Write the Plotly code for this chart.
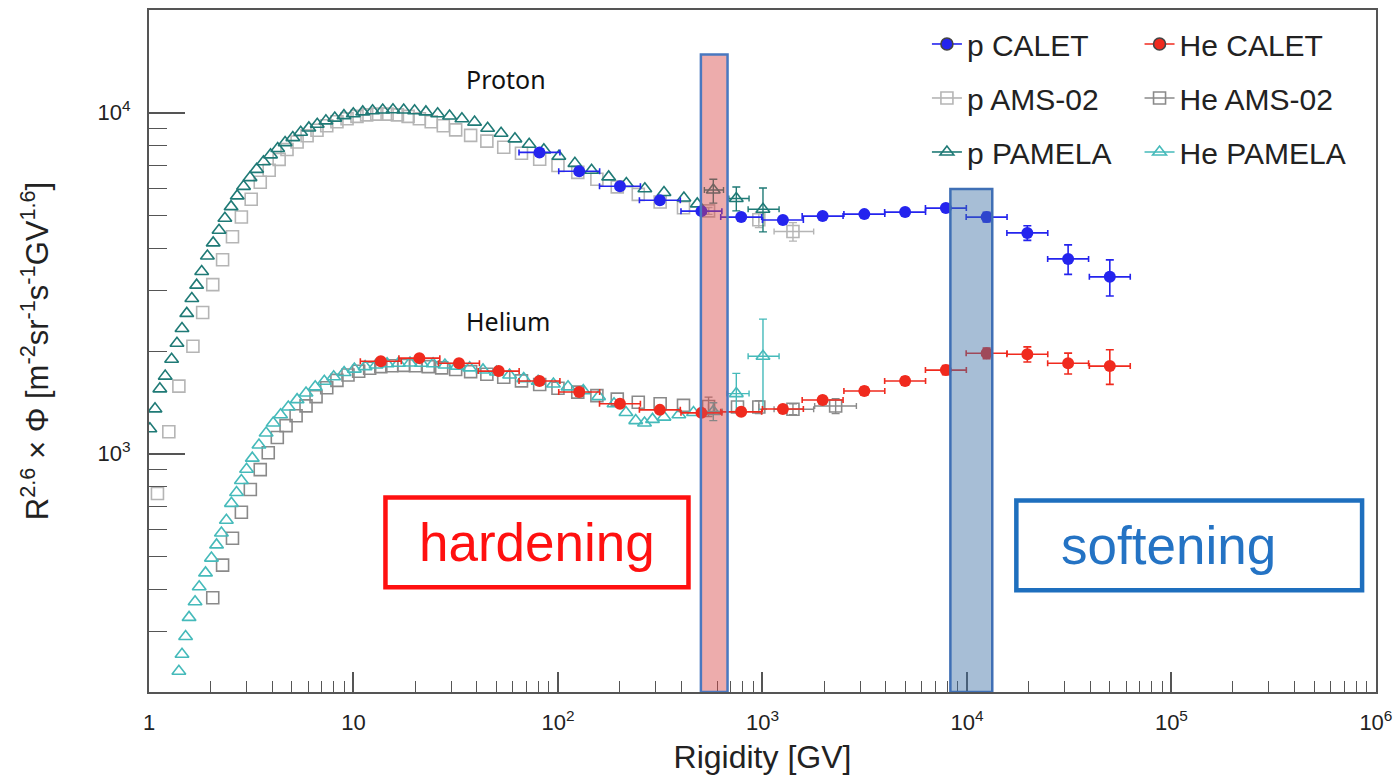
import numpy as np
import plotly.graph_objects as go

# ---------------- data: R^2.6 x flux vs rigidity ----------------
# CALET (binned, 0.2 decade bins)
p_calet_R = [81.2, 127, 201, 315, 503, 787, 1259, 1969, 3150, 4985, 7890, 12480, 19740, 31250, 49970]
p_calet_F = [7645, 6730, 6085, 5536, 5143, 4940, 4845, 4973, 5040, 5110, 5250, 4940, 4440, 3725, 3300]
p_calet_dF = [60, 60, 60, 60, 60, 60, 70, 80, 90, 110, 130, 160, 220, 370, 400]

he_calet_R = [13.6, 21.0, 32.8, 51.3, 81.2, 127, 201, 315, 503, 787, 1259, 1969, 3150, 4985,
              7890, 12480, 19740, 31250, 49970]
he_calet_F = [1866, 1906, 1842, 1746, 1633, 1517, 1400, 1344, 1317, 1326, 1352, 1436, 1527, 1633,
              1758, 1969, 1957, 1842, 1806]
he_calet_dF = [30, 25, 25, 25, 25, 25, 25, 25, 25, 25, 30, 35, 40, 45, 55, 70, 100, 130, 210]

# AMS-02 protons
p_ams_R = [1.1, 1.25, 1.4, 1.64, 1.83, 2.05, 2.29, 2.56, 2.83, 3.16, 3.5, 3.87, 4.33, 4.73, 5.3,
           5.93, 6.63, 7.4, 8.3, 9.3, 10.4, 11.6, 13.0, 14.6, 16.4, 18.5, 21, 24, 27.5, 31.6, 37.4,
           44.9, 54.3, 66.3, 81.4, 100, 125, 155, 195, 247, 316, 411]
p_ams_F = [764, 1159, 1578, 2065, 2594, 3130, 3705, 4325, 4945, 5575, 6250, 6775, 7295, 7800, 8200,
           8560, 8880, 9150, 9400, 9600, 9750, 9850, 9900, 9900, 9850, 9750, 9600, 9400, 9150, 8900,
           8580, 8250, 7920, 7600, 7300, 7000, 6680, 6380, 6060, 5760, 5470, 5260]
p_ams_hi_R = [545, 960, 1410]
p_ams_hi_F = [5150, 4850, 4480]
p_ams_hi_dF = [120, 250, 280]
p_ams_hi_dRp = [0, 0, 370]
p_ams_hi_dRm = [0, 0, 270]

# AMS-02 helium
he_ams_R = [2.05, 2.29, 2.56, 2.83, 3.13, 3.50, 3.83, 4.24, 4.68, 5.24, 5.86, 6.56, 7.4, 8.3, 9.4,
            10.6, 12.0, 13.6, 15.4, 17.6, 20.1, 23.2, 27, 31.6, 37.4, 44.9, 54.3, 66.3, 81.4, 100,
            125, 155, 195, 247, 316, 411, 755]
he_ams_F = [378, 471, 565, 673, 785, 898, 1006, 1115, 1208, 1292, 1381, 1470, 1560, 1640, 1700,
            1745, 1780, 1800, 1810, 1815, 1810, 1800, 1785, 1765, 1740, 1710, 1675, 1635, 1595, 1555,
            1515, 1480, 1445, 1415, 1400, 1385, 1370]
he_ams_hi_R = [545, 960, 1410, 2280]
he_ams_hi_F = [1375, 1370, 1350, 1380]
he_ams_hi_dF = [90, 60, 50, 70]
he_ams_hi_dRp = [0, 0, 370, 600]
he_ams_hi_dRm = [0, 0, 270, 480]

# PAMELA protons
p_pam_R = [1.01, 1.07, 1.13, 1.20, 1.29, 1.37, 1.45, 1.53, 1.62, 1.71, 1.81, 1.93, 2.06, 2.20, 2.35,
           2.52, 2.70, 2.90, 3.12, 3.36, 3.63, 3.93, 4.26, 4.63, 5.05, 5.52, 6.05, 6.65, 7.33, 8.10,
           8.98, 9.98, 11.1, 12.4, 13.9, 15.6, 17.6, 19.9, 22.6, 25.8, 29.5, 33.9, 39.1, 45.3, 52.7,
           61.6, 72.3, 85.3, 101, 121, 146, 177, 216, 266, 330, 413, 480]
p_pam_F = [1183, 1353, 1549, 1688, 1892, 2107, 2329, 2578, 2851, 3120, 3420, 3800, 4150, 4520, 4900,
           5300, 5700, 6080, 6450, 6820, 7180, 7520, 7850, 8170, 8450, 8760, 9020, 9250, 9460, 9640,
           9800, 9930, 10050, 10130, 10180, 10200, 10180, 10130, 10050, 9930, 9780, 9600, 9380, 9000,
           8700, 8380, 8080, 7780, 7450, 7100, 6780, 6480, 6200, 5980, 5830, 5620, 5400]
p_pam_hi_R = [575, 745, 1006]
p_pam_hi_F = [5930, 5600, 5210]
p_pam_hi_dFp = [450, 450, 800]
p_pam_hi_dFm = [500, 450, 740]
p_pam_hi_dRp = [70, 115, 200]
p_pam_hi_dRm = [55, 60, 155]

# PAMELA helium
he_pam_R = [1.40, 1.45, 1.51, 1.57, 1.68, 1.76, 1.89, 2.02, 2.14, 2.26, 2.39, 2.53, 2.68, 2.83, 3.0,
            3.2, 3.45, 3.74, 4.05, 4.4, 4.8, 5.3, 5.86, 6.5, 7.2, 8.0, 9.0, 10.1, 11.4, 12.9, 14.6,
            16.6, 18.9, 21.5, 24.5, 28, 32, 37, 43, 50, 58, 68, 80, 95, 112, 133, 158, 188, 215,
            240, 265, 290, 330, 390, 460]
he_pam_F = [230, 258, 291, 331, 368, 407, 447, 494, 540, 585, 638, 715, 769, 834, 900,
            970, 1060, 1150, 1230, 1300, 1370, 1440, 1506, 1570, 1630, 1680, 1730, 1770, 1800, 1820,
            1835, 1842, 1845, 1842, 1835, 1820, 1806, 1785, 1760, 1735, 1700, 1660, 1630, 1600, 1570,
            1530, 1470, 1400, 1320, 1250, 1230, 1260, 1280, 1300, 1320]
he_pam_hi_R = [575, 745, 1006]
he_pam_hi_F = [1330, 1500, 1930]
he_pam_hi_dFp = [80, 220, 550]
he_pam_hi_dFm = [80, 170, 580]
he_pam_hi_dRp = [60, 115, 200]
he_pam_hi_dRm = [50, 75, 155]

CALET_HALF_BIN = 0.1  # half bin width in decades

# ---------------- styles ----------------
C_P_CALET = "#2424ee"
C_HE_CALET = "#f02a1e"
C_P_AMS = "#b5b5b5"
C_HE_AMS = "#8a8a8a"
C_P_PAM = "#1f7a76"
C_HE_PAM = "#45baba"
AXIS_C = "#555555"
FONT = "Liberation Sans, Arial, sans-serif"

fig = go.Figure()


def calet_xerr(R):
    R = np.asarray(R, float)
    return R * (10 ** CALET_HALF_BIN - 1), R * (1 - 10 ** -CALET_HALF_BIN)


def add_calet(R, F, dF, color):
    plus, minus = calet_xerr(R)
    fig.add_trace(go.Scatter(
        x=R, y=F, mode="markers", showlegend=False, hoverinfo="x+y",
        marker=dict(symbol="circle", size=12, color=color),
        error_x=dict(type="data", symmetric=False, array=plus, arrayminus=minus,
                     color=color, thickness=1.6, width=3),
        error_y=dict(type="data", array=dF, color=color, thickness=1.6, width=4),
    ))


def add_open(R, F, color, symbol, size, dFp=None, dFm=None, dRp=None, dRm=None):
    kw = {}
    if dFp is not None:
        kw["error_y"] = dict(type="data", symmetric=False, array=dFp,
                             arrayminus=dFm if dFm is not None else dFp,
                             color=color, thickness=1.4, width=4)
    if dRp is not None:
        kw["error_x"] = dict(type="data", symmetric=False, array=dRp, arrayminus=dRm,
                             color=color, thickness=1.4, width=3)
    fig.add_trace(go.Scatter(
        x=R, y=F, mode="markers", showlegend=False, hoverinfo="x+y",
        marker=dict(symbol=symbol, size=size, color=color, line=dict(width=1.6)),
        **kw,
    ))


# AMS-02 (drawn first, underneath)
add_open(p_ams_R, p_ams_F, C_P_AMS, "square-open", 12)
add_open(p_ams_hi_R, p_ams_hi_F, C_P_AMS, "square-open", 12,
         p_ams_hi_dF, p_ams_hi_dF, p_ams_hi_dRp, p_ams_hi_dRm)
add_open(he_ams_R, he_ams_F, C_HE_AMS, "square-open", 12)
add_open(he_ams_hi_R, he_ams_hi_F, C_HE_AMS, "square-open", 12,
         he_ams_hi_dF, he_ams_hi_dF, he_ams_hi_dRp, he_ams_hi_dRm)

# PAMELA
add_open(p_pam_R, p_pam_F, C_P_PAM, "triangle-up-open", 12)
add_open(p_pam_hi_R, p_pam_hi_F, C_P_PAM, "triangle-up-open", 12,
         p_pam_hi_dFp, p_pam_hi_dFm, p_pam_hi_dRp, p_pam_hi_dRm)
add_open(he_pam_R, he_pam_F, C_HE_PAM, "triangle-up-open", 12)
add_open(he_pam_hi_R, he_pam_hi_F, C_HE_PAM, "triangle-up-open", 12,
         he_pam_hi_dFp, he_pam_hi_dFm, he_pam_hi_dRp, he_pam_hi_dRm)

# CALET on top
add_calet(p_calet_R, p_calet_F, p_calet_dF, C_P_CALET)
add_calet(he_calet_R, he_calet_F, he_calet_dF, C_HE_CALET)

# legend entries (two columns: protons / helium)
legend_items = [
    ("p CALET", C_P_CALET, "circle", "legend"),
    ("p AMS-02", C_P_AMS, "square-open", "legend"),
    ("p PAMELA", C_P_PAM, "triangle-up-open", "legend"),
    ("He CALET", C_HE_CALET, "circle", "legend2"),
    ("He AMS-02", C_HE_AMS, "square-open", "legend2"),
    ("He PAMELA", C_HE_PAM, "triangle-up-open", "legend2"),
]
for name, color, symbol, leg in legend_items:
    fig.add_trace(go.Scatter(
        x=[None], y=[None], mode="lines+markers", name=name, legend=leg, legendgroup=name,
        line=dict(color=color, width=1.6),
        marker=dict(symbol=symbol, size=12, color=color, line=dict(width=1.6)),
    ))

# ---------------- layout ----------------
L, R_, T, B = 149, 16, 8, 86
W, H = 1400, 778
PW, PH = W - L - R_, H - T - B


def px(xp):
    return (xp - L) / PW


def py(yp):
    return (H - B - yp) / PH


x_major = [1, 10, 100, 1e3, 1e4, 1e5, 1e6]
x_labels = ["1", "10", "10<sup>2</sup>", "10<sup>3</sup>", "10<sup>4</sup>", "10<sup>5</sup>", "10<sup>6</sup>"]
x_minor = [k * 10 ** n for n in range(0, 6) for k in range(2, 10)]
y_major = [1e3, 1e4]
y_labels = ["10<sup>3</sup>", "10<sup>4</sup>"]
y_minor = [k * 10 ** n for n in range(2, 5) for k in range(2, 10) if 200 <= k * 10 ** n <= 20000]

axis_common = dict(
    type="log", showgrid=False, zeroline=False,
    showline=True, linecolor=AXIS_C, linewidth=2, mirror=True,
    ticks="inside", tickcolor=AXIS_C, tickwidth=1.6,
    tickmode="array", ticklabeloverflow="allow",
    tickfont=dict(family=FONT, size=22, color="#222222"),
)

fig.update_layout(
    width=W, height=H,
    margin=dict(l=L, r=R_, t=T, b=B),
    paper_bgcolor="white", plot_bgcolor="white",
    font=dict(family=FONT, color="#222222"),
    xaxis=dict(
        **axis_common, range=[0, 6.0005], tickvals=x_major, ticktext=x_labels, ticklen=20,
        ticklabelstandoff=10,
        minor=dict(ticks="inside", ticklen=11, tickcolor=AXIS_C, tickwidth=1.4,
                   tickmode="array", tickvals=x_minor, showgrid=False),
        title=dict(text="Rigidity [GV]", font=dict(family=FONT, size=32, color="#222222"), standoff=11),
    ),
    yaxis=dict(
        **axis_common, range=[np.log10(200), np.log10(20000)], tickvals=y_major, ticktext=y_labels,
        ticklen=36, ticklabelstandoff=12,
        minor=dict(ticks="inside", ticklen=18, tickcolor=AXIS_C, tickwidth=1.4,
                   tickmode="array", tickvals=y_minor, showgrid=False),
        title=dict(text="R<sup>2.6</sup> × Φ [m<sup>-2</sup>sr<sup>-1</sup>s<sup>-1</sup>GV<sup>1.6</sup>]",
                   font=dict(family=FONT, size=31, color="#222222"), standoff=40),
    ),
    legend=dict(x=px(932), y=py(16), xanchor="left", yanchor="top", bgcolor="rgba(0,0,0,0)",
                font=dict(family=FONT, size=30, color="#222222"), tracegroupgap=12,
                traceorder="grouped", itemclick=False),
    legend2=dict(x=px(1146), y=py(16), xanchor="left", yanchor="top", bgcolor="rgba(0,0,0,0)",
                 font=dict(family=FONT, size=30, color="#222222"), tracegroupgap=12,
                 traceorder="grouped", itemclick=False),
    showlegend=True,
)

# spectral-break bands
fig.add_shape(type="rect", xref="x", yref="y", x0=500, x1=675, y0=200, y1=14800,
              fillcolor="rgba(215,70,70,0.45)", line=dict(color="#4a78c0", width=2.5), layer="above")
fig.add_shape(type="rect", xref="x", yref="y", x0=8300, x1=13300, y0=200, y1=5970,
              fillcolor="rgba(60,110,165,0.45)", line=dict(color="#3f6fb5", width=2.5), layer="above")

# labelled boxes
fig.add_shape(type="rect", xref="paper", yref="paper", x0=px(387), x1=px(692), y0=py(587), y1=py(497),
              line=dict(color="#ff1010", width=4.5), fillcolor="rgba(0,0,0,0)")
fig.add_shape(type="rect", xref="paper", yref="paper", x0=px(1022), x1=px(1370), y0=py(590), y1=py(500),
              line=dict(color="#1e6fbe", width=4.5), fillcolor="rgba(0,0,0,0)")
fig.add_annotation(x=px(540), y=py(542), xref="paper", yref="paper", text="hardening", showarrow=False,
                   xanchor="center", yanchor="middle",
                   font=dict(family=FONT, size=53, color="#ff1010"))
fig.add_annotation(x=px(1175), y=py(545), xref="paper", yref="paper", text="softening", showarrow=False,
                   xanchor="center", yanchor="middle",
                   font=dict(family=FONT, size=53, color="#2473c4"))

# species labels
fig.add_annotation(x=px(508), y=py(77), xref="paper", yref="paper", text="Proton", showarrow=False,
                   xanchor="center", yanchor="middle",
                   font=dict(family="Noto Sans, sans-serif", size=25, color="#111111"))
fig.add_annotation(x=px(510), y=py(320), xref="paper", yref="paper", text="Helium", showarrow=False,
                   xanchor="center", yanchor="middle",
                   font=dict(family="Noto Sans, sans-serif", size=25, color="#111111"))

fig.write_html("out.html")
